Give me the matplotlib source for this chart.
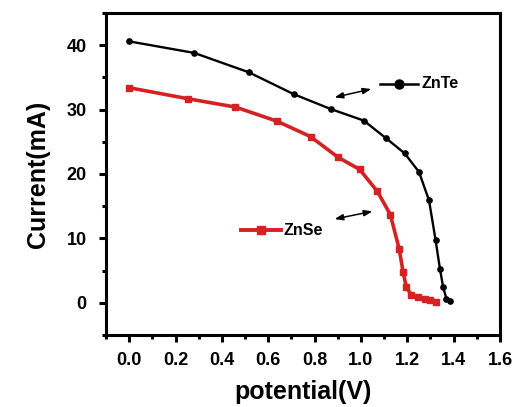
import matplotlib
matplotlib.use("Agg")
import matplotlib.pyplot as plt
from matplotlib.ticker import MultipleLocator

plt.rcParams['font.family'] = ['Liberation Sans', 'DejaVu Sans']
plt.rcParams['font.weight'] = 'bold'

# Data
znte_v = [0.0, 0.281, 0.516, 0.710, 0.869, 1.012, 1.107, 1.189, 1.251, 1.294, 1.322, 1.341, 1.355, 1.369, 1.384]
znte_i = [40.6, 38.8, 35.8, 32.4, 30.1, 28.3, 25.6, 23.2, 20.3, 15.9, 9.8, 5.3, 2.4, 0.65, 0.2]

znse_v = [0.0, 0.252, 0.458, 0.638, 0.783, 0.901, 0.995, 1.071, 1.127, 1.165, 1.182, 1.196, 1.218, 1.247, 1.276, 1.297, 1.326]
znse_i = [33.4, 31.7, 30.4, 28.2, 25.8, 22.6, 20.7, 17.3, 13.7, 8.4, 4.8, 2.45, 1.16, 0.9, 0.65, 0.4, 0.12]

x_ticks = [0.0, 0.2, 0.4, 0.6, 0.8, 1.0, 1.2, 1.4, 1.6]
y_ticks = [0, 10, 20, 30, 40]

red = '#d42222'

fig = plt.figure(figsize=(5.17, 4.07), dpi=100)
ax = fig.add_axes([0.205, 0.177, 0.762, 0.791])

ax.plot(znte_v, znte_i, color='black', lw=1.7, marker='o', ms=3.8, zorder=3)
ax.plot(znse_v, znse_i, color=red, lw=2.6, marker='s', ms=3.8, zorder=3)

# in-plot legend entries
ax.plot([1.081, 1.245], [34.0, 34.0], color='black', lw=1.8)
ax.plot([1.163], [34.0], color='black', marker='o', ms=6.5)
ax.text(1.262, 34.0, 'ZnTe', fontsize=11.5, fontweight='bold', va='center', ha='left')

ax.plot([0.483, 0.656], [11.25, 11.25], color=red, lw=2.8)
ax.plot([0.57], [11.25], color=red, marker='s', ms=5.5)
ax.text(0.668, 11.25, 'ZnSe', fontsize=11.5, fontweight='bold', va='center', ha='left')

arrow = dict(arrowstyle='<|-|>,head_length=0.5,head_width=0.18', color='black', lw=1.1,
             mutation_scale=10, shrinkA=0, shrinkB=0)
ax.annotate('', xy=(0.886, 31.9), xytext=(1.045, 33.2), arrowprops=arrow)
ax.annotate('', xy=(0.886, 13.0), xytext=(1.05, 14.2), arrowprops=arrow)

ax.set_xlim(-0.1, 1.6)
ax.set_ylim(-5, 45)
ax.set_xticks(x_ticks)
ax.set_yticks(y_ticks)
ax.set_xticklabels([f'{t:.1f}' for t in x_ticks])
ax.set_yticklabels([str(t) for t in y_ticks])
ax.xaxis.set_minor_locator(MultipleLocator(0.1))
ax.yaxis.set_minor_locator(MultipleLocator(5))

for s in ax.spines.values():
    s.set_linewidth(2.2)

ax.tick_params(which='major', direction='out', length=5, width=2.2, labelsize=13)
ax.tick_params(which='minor', direction='out', length=3, width=2.2)
ax.tick_params(axis='x', which='major', pad=7)
ax.tick_params(axis='y', which='major', pad=9)
for lab in ax.get_xticklabels() + ax.get_yticklabels():
    lab.set_fontweight('bold')

ax.set_xlabel('potential(V)', fontsize=18, fontweight='bold', labelpad=8)
ax.set_ylabel('Current(mA)', fontsize=18, fontweight='bold', labelpad=12)

fig.savefig('out.png', dpi=100)
